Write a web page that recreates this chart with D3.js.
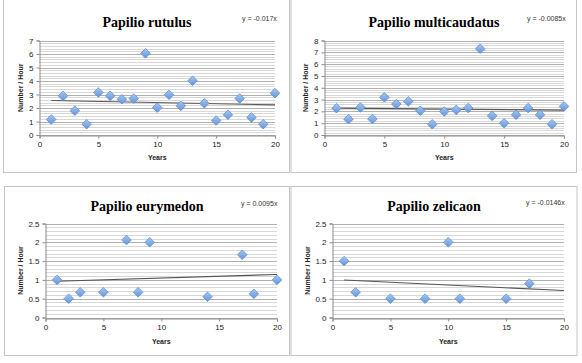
<!DOCTYPE html>
<html>
<head>
<meta charset="utf-8">
<script src="https://cdn.jsdelivr.net/npm/d3@7"></script>
<style>
  body { margin: 0; background: #fff; }
  svg { display: block; }
  .tick text { font-family: "Liberation Sans", Arial, sans-serif; font-size: 8px; fill: #222; }
</style>
</head>
<body>
<script>
'use strict';

// ---- data ----
const rutulusYears = [1, 2, 3, 4, 5, 6, 7, 8, 9, 10, 11, 12, 13, 14, 15, 16, 17, 18, 19, 20];
const rutulusCounts = [1.15, 2.9, 1.8, 0.8, 3.15, 2.9, 2.65, 2.7, 6.05, 2.03, 2.98, 2.16, 4.02, 2.35, 1.07, 1.5, 2.7, 1.3, 0.8, 3.1];

const multiYears = [1, 2, 3, 4, 5, 6, 7, 8, 9, 10, 11, 12, 13, 14, 15, 16, 17, 18, 19, 20];
const multiCounts = [2.27, 1.34, 2.33, 1.35, 3.19, 2.62, 2.85, 2.05, 0.91, 1.99, 2.13, 2.28, 7.3, 1.62, 1.0, 1.71, 2.28, 1.71, 0.91, 2.42];

const eurymedonYears = [1, 2, 3, 5, 7, 8, 9, 14, 17, 18, 20];
const eurymedonCounts = [1.0, 0.5, 0.67, 0.67, 2.06, 0.67, 2.0, 0.55, 1.67, 0.63, 1.0];

const zelicaonYears = [1, 2, 5, 8, 10, 11, 15, 17];
const zelicaonCounts = [1.5, 0.67, 0.5, 0.5, 2.0, 0.5, 0.5, 0.9];

const titles = ["Papilio rutulus", "Papilio multicaudatus", "Papilio eurymedon", "Papilio zelicaon"];
const equations = ["y = -0.017x", "y = -0.0085x", "y = 0.0095x", "y = -0.0146x"];
const trendSlopes = [-0.017, -0.0085, 0.0095, -0.0146];
const trendIntercepts = [2.57, 2.28, 0.955, 1.01];

const xTicks = [0, 5, 10, 15, 20];
const yTicksRutulus = [0, 1, 2, 3, 4, 5, 6, 7];
const yTicksMulti = [0, 1, 2, 3, 4, 5, 6, 7, 8];
const yTicksSmall = [0, 0.5, 1, 1.5, 2, 2.5];

// ---- layout ----
const svg = d3.select('body').append('svg')
  .attr('width', 582)
  .attr('height', 363);

const defs = svg.append('defs');
const grad = defs.append('linearGradient')
  .attr('id', 'dia')
  .attr('x1', 0).attr('y1', 0).attr('x2', 0).attr('y2', 1);
grad.append('stop').attr('offset', '0%').attr('stop-color', '#a6c7f2');
grad.append('stop').attr('offset', '100%').attr('stop-color', '#6396dc');

const panels = [
  { frame: [3.5, -1, 286, 173.5], plot: [39.5, 40.5, 275, 135], tx: 147, ty: 27, ex: 242, ey: 21,
    yl: 21, xt: 159.5, minor: 0.2, xs: rutulusYears, ys: rutulusCounts, ticks: yTicksRutulus },
  { frame: [291, -1, 285.5, 173.5], plot: [324.5, 40.5, 564, 135], tx: 434, ty: 27, ex: 527, ey: 21,
    yl: 306, xt: 159.5, minor: 0.2, xs: multiYears, ys: multiCounts, ticks: yTicksMulti },
  { frame: [4.5, 186.5, 285, 169], plot: [45.5, 223.5, 277, 317.5], tx: 147, ty: 211, ex: 241, ey: 206,
    yl: 21, xt: 344, minor: 0.1, xs: eurymedonYears, ys: eurymedonCounts, ticks: yTicksSmall },
  { frame: [291, 186.5, 286, 169], plot: [332.5, 223.5, 564, 317.5], tx: 434, ty: 211, ex: 526, ey: 205,
    yl: 307.5, xt: 344, minor: 0.1, xs: zelicaonYears, ys: zelicaonCounts, ticks: yTicksSmall }
];

panels.forEach(function(p, i) { drawPanel(p, i); });

function drawPanel(p, i) {
  const g = svg.append('g');
  const [px0, py0, px1, py1] = p.plot;
  const yMax = d3.max(p.ticks);

  // outer chart frame
  g.append('rect')
    .attr('x', p.frame[0]).attr('y', p.frame[1])
    .attr('width', p.frame[2]).attr('height', p.frame[3])
    .attr('fill', 'none')
    .attr('stroke', '#c4c4c4')
    .attr('stroke-width', 1);

  const x = d3.scaleLinear().domain([0, 20]).range([px0, px1]);
  const y = d3.scaleLinear().domain([0, yMax]).range([py1, py0]);

  // minor gridlines
  const nMinor = Math.round(yMax / p.minor);
  const minorVals = d3.range(nMinor + 1).map(function(k) { return k * p.minor; });
  g.append('g').selectAll('line')
    .data(minorVals)
    .enter().append('line')
    .attr('x1', px0).attr('x2', px1)
    .attr('y1', function(d) { return Math.round(y(d)) + 0.5; })
    .attr('y2', function(d) { return Math.round(y(d)) + 0.5; })
    .attr('stroke', '#d8d8d8')
    .attr('stroke-width', 1);

  // major gridlines
  g.append('g').selectAll('line')
    .data(p.ticks)
    .enter().append('line')
    .attr('x1', px0).attr('x2', px1)
    .attr('y1', function(d) { return Math.round(y(d)) + 0.5; })
    .attr('y2', function(d) { return Math.round(y(d)) + 0.5; })
    .attr('stroke', '#b0b0b0')
    .attr('stroke-width', 1);

  // axes
  const yAxis = d3.axisLeft(y).tickValues(p.ticks).tickSize(3).tickPadding(3)
    .tickFormat(function(d) { return d; });
  const ya = g.append('g')
    .attr('transform', 'translate(' + px0 + ',0)')
    .call(yAxis);
  const xAxis = d3.axisBottom(x).tickValues(xTicks).tickSize(3).tickPadding(3);
  const xa = g.append('g')
    .attr('transform', 'translate(0,' + (Math.round(y(0)) + 0.5) + ')')
    .call(xAxis);
  [ya, xa].forEach(function(a) {
    a.select('.domain').attr('stroke', '#8c8c8c');
    a.selectAll('.tick line').attr('stroke', '#8c8c8c');
  });

  // trend line
  const trend = d3.line()
    .x(function(d) { return x(d); })
    .y(function(d) { return y(trendIntercepts[i] + trendSlopes[i] * d); });
  g.append('path')
    .datum([1, 20])
    .attr('d', trend)
    .attr('fill', 'none')
    .attr('stroke', '#555')
    .attr('stroke-width', 1.1);

  // diamond markers
  const pts = p.xs.map(function(v, k) { return [v, p.ys[k]]; });
  g.append('g').selectAll('path')
    .data(pts)
    .enter().append('path')
    .attr('d', function(d) {
      const cx = x(d[0]), cy = y(d[1]), r = 4.8;
      return 'M' + cx + ',' + (cy - r) + 'L' + (cx + r) + ',' + cy +
        'L' + cx + ',' + (cy + r) + 'L' + (cx - r) + ',' + cy + 'Z';
    })
    .attr('fill', 'url(#dia)')
    .attr('stroke', '#5686c8')
    .attr('stroke-width', 0.7);

  // title
  g.append('text')
    .attr('x', p.tx).attr('y', p.ty)
    .attr('text-anchor', 'middle')
    .style('font-family', '"Liberation Serif", "Times New Roman", serif')
    .style('font-weight', 'bold')
    .style('font-size', '14px')
    .attr('fill', '#000')
    .text(titles[i]);

  // equation
  g.append('text')
    .attr('x', p.ex).attr('y', p.ey)
    .style('font-family', '"Liberation Sans", Arial, sans-serif')
    .style('font-size', '7px')
    .attr('fill', '#333')
    .text(equations[i]);

  // axis titles
  g.append('text')
    .attr('transform', 'translate(' + p.yl + ',' + ((py0 + py1) / 2) + ')rotate(-90)')
    .attr('text-anchor', 'middle')
    .attr('dy', '0.35em')
    .style('font-family', '"Liberation Sans", Arial, sans-serif')
    .style('font-weight', 'bold')
    .style('font-size', '7px')
    .attr('fill', '#222')
    .text('Number / Hour');

  g.append('text')
    .attr('x', (px0 + px1) / 2).attr('y', p.xt)
    .attr('text-anchor', 'middle')
    .style('font-family', '"Liberation Sans", Arial, sans-serif')
    .style('font-weight', 'bold')
    .style('font-size', '7px')
    .attr('fill', '#222')
    .text('Years');
}
</script>
</body>
</html>
